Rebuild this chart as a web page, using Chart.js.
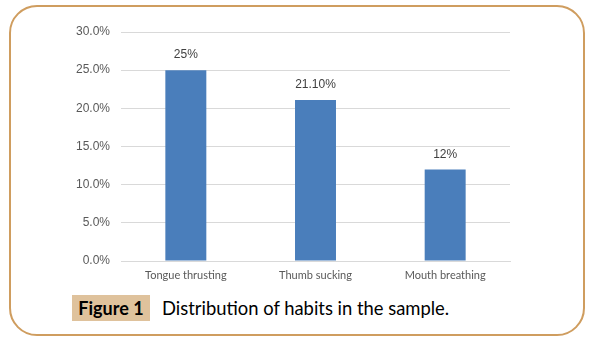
<!DOCTYPE html>
<html>
<head>
<meta charset="utf-8">
<script src="https://cdn.jsdelivr.net/npm/chart.js@4"></script>
<style>
    body { margin: 0; background: #ffffff; }
    #frame {
        position: absolute; left: 9px; top: 5px; width: 572px; height: 327px;
        border: 2px solid #cf9d5f; border-radius: 28px;
    }
    #chartBox { position: absolute; left: 0; top: 0; width: 592px; height: 290px; }
    #figLabel {
        position: absolute; left: 72px; top: 295px; width: 78px; height: 26px;
        background: #dfc29c; font-family: Lato, "Open Sans", sans-serif; font-weight: bold;
        font-size: 18px; line-height: 26px; text-align: center; color: #000;
    }
    #figText {
        position: absolute; left: 162px; top: 295px; height: 26px; line-height: 26px;
        font-family: Lato, "Open Sans", sans-serif; font-size: 18.4px; color: #000;
    }
</style>
</head>
<body>
<div id="frame"></div>
<div id="chartBox"><canvas id="barChart"></canvas></div>
<div id="figLabel">Figure 1</div>
<div id="figText">Distribution of habits in the sample.</div>
<script>
    // Chart data
    const habits = ["Tongue thrusting", "Thumb sucking", "Mouth breathing"];
    const percentValues = [25, 21.1, 12];
    const valueLabels = ["25%", "21.10%", "12%"];

    // Draw the value labels above each bar
    const barLabelsPlugin = {
        id: "barLabels",
        afterDatasetsDraw(chart) {
            const ctx = chart.ctx;
            const meta = chart.getDatasetMeta(0);
            ctx.save();
            ctx.font = "12px 'Liberation Sans', Arial, sans-serif";
            ctx.fillStyle = "#404040";
            ctx.textAlign = "center";
            ctx.textBaseline = "bottom";
            meta.data.forEach((bar, i) => {
                ctx.fillText(valueLabels[i], bar.x, bar.y - 9);
            });
            ctx.restore();
        }
    };

    const ctx = document.getElementById("barChart").getContext("2d");
    const barChart = new Chart(ctx, {
        type: "bar",
        data: {
            labels: habits,
            datasets: [{
                data: percentValues,
                backgroundColor: "#4a7ebb",
                barPercentage: 0.316,
                categoryPercentage: 1.0
            }]
        },
        options: {
            responsive: true,
            maintainAspectRatio: false,
            animation: false,
            layout: { padding: { left: 50, right: 82, top: 32, bottom: 0 } },
            plugins: {
                legend: { display: false },
                tooltip: { enabled: false }
            },
            scales: {
                x: {
                    grid: { display: false, drawTicks: false },
                    border: { color: "#d9d9d9", width: 1 },
                    ticks: {
                        color: "#595959",
                        padding: 8,
                        maxRotation: 0,
                        font: { family: "Lato, 'Open Sans', sans-serif", size: 11 }
                    },
                    afterFit: scale => { scale.height = 29; }
                },
                y: {
                    min: 0,
                    max: 30,
                    grid: { color: "#d9d9d9", lineWidth: 1, drawTicks: false },
                    border: { display: false },
                    ticks: {
                        stepSize: 5,
                        color: "#595959",
                        padding: 11,
                        font: { family: "'Liberation Sans', Arial, sans-serif", size: 12 },
                        callback: value => value.toFixed(1) + "%"
                    },
                    afterFit: scale => { scale.width = 71; }
                }
            }
        },
        plugins: [barLabelsPlugin]
    });
</script>
</body>
</html>
